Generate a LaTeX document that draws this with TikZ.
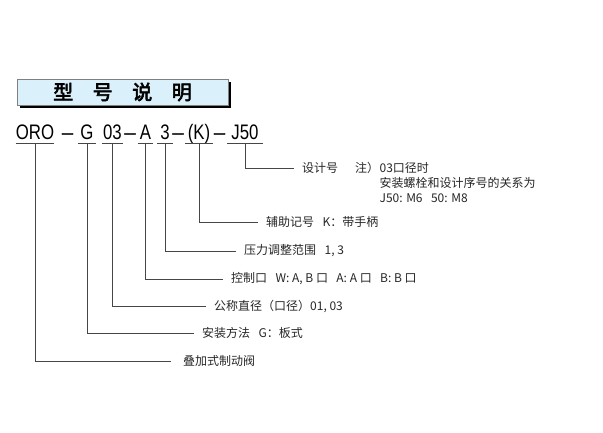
\documentclass[tikz,border=0pt]{standalone}
\usepackage{fontspec}
\setmainfont{Liberation Sans}
\newfontfamily\cjk{Noto Sans CJK SC}
\newfontfamily\cjkbf{Noto Sans CJK SC}[FakeBold=3]
\newfontfamily\codefont{Liberation Sans}[FakeStretch=0.8]
\usepackage{xcolor}
\usetikzlibrary{shadows}
\definecolor{linegray}{RGB}{70,70,70}
\definecolor{titleblue}{RGB}{218,240,251}
\newcommand{\gap}{\hspace{0.7em}}

\begin{document}
\begin{tikzpicture}[
    x=1pt, y=-1pt,
    titlebox/.style={rectangle, draw=gray, fill=titleblue, minimum width=211pt, minimum height=26pt,
        drop shadow={shadow xshift=3pt, shadow yshift=-3pt, fill=black, opacity=1},
        font=\cjkbf\fontsize{20}{20}\selectfont},
    part/.style={anchor=base, inner xsep=0pt, inner ysep=2pt, text height=15pt, text depth=2.5pt,
        minimum width=#1, font=\codefont\fontsize{21}{21}\selectfont},
    hyph/.style={anchor=base, inner sep=0pt, font=\fontsize{20}{20}\selectfont\addfontfeature{FakeBold=1}},
    desc/.style={anchor=west, inner xsep=8pt, inner ysep=0pt, text=black!85,
        font=\cjk\fontsize{12}{15}\selectfont},
    note/.style={anchor=north west, inner sep=0pt, align=left, text=black!85,
        font=\cjk\fontsize{12}{15}\selectfont},
    link/.style={draw=linegray, line width=0.8pt}
]
\useasboundingbox (0,0) rectangle (603,432);

% Titre
\node[titlebox] (title) at (122.5,92) {型\hspace{19.5pt}号\hspace{19.5pt}说\hspace{19.5pt}明};

% Code du modele
\node[part=36pt] (ORO) at (35,139) {ORO};
\node[hyph] (h1) at (67.5,139) {–};
\node[part=18pt] (G) at (87,139) {G};
\node[part=21pt] (dia) at (112.5,139) {03};
\node[hyph] (h2) at (130,139) {–};
\node[part=15pt] (ctl) at (145.5,139) {A};
\node[part=16pt] (prs) at (165,139) {3};
\node[hyph] (h3) at (178,139) {–};
\node[part=28pt] (aux) at (199,139) {(K)};
\node[hyph] (h4) at (219.5,139) {–};
\node[part=36pt] (des) at (245,139) {J50};

% Descriptions
\node[desc] (lblJ) at (294,168) {设计号\hspace{17pt}注）};
\node[note] (noteJ) at ([xshift=-8pt]lblJ.north east) {03口径时\\安装螺栓和设计序号的关系为\\J50: M6\gap 50: M8};
\node[desc] (lblK) at (258,222) {辅助记号\gap K：带手柄};
\node[desc] (lblP) at (236,251) {压力调整范围\gap 1, 3};
\node[desc] (lblA) at (223,279) {控制口\gap W: A, B 口\gap A: A 口\gap B: B 口};
\node[desc] (lblD) at (206,306) {公称直径（口径）01, 03};
\node[desc] (lblG) at (194,333) {安装方法\gap G：板式};
\node[desc, inner xsep=12pt] (lblO) at (171,361) {叠加式制动阀};

% Liaisons
\foreach \p in {ORO,G,dia,ctl,prs,aux,des}
    \draw[link] (\p.south west) -- (\p.south east);

\foreach \p/\l in {ORO/lblO, G/lblG, dia/lblD, ctl/lblA, prs/lblP, aux/lblK, des/lblJ}
    \draw[link] (\p.south) |- (\l.west);

\end{tikzpicture}
\end{document}
